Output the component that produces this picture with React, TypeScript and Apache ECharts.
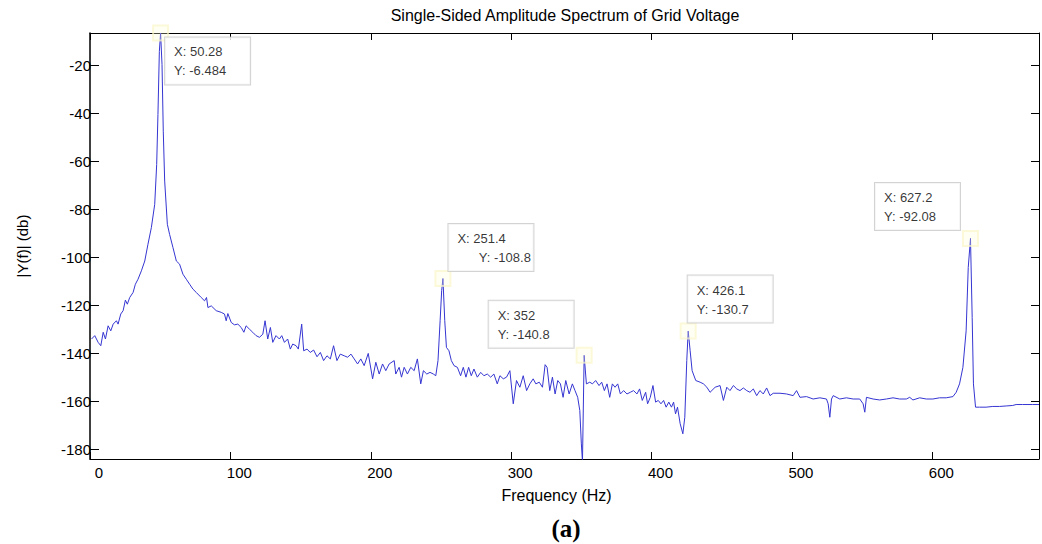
import React, { useEffect, useRef } from "react";
import * as echarts from "echarts";

// Spectrum samples
const freq = [
  1.1, 3.4, 5.8, 7.7, 9.4, 11.0, 12.9, 14.8, 16.5, 18.8, 20.0, 21.9, 23.6, 25.2, 26.6, 28.3, 30.7, 32.3, 34.2, 36.6,
  39.0, 41.3, 43.7, 46.1, 47.5, 48.4, 49.4, 50.28, 51.3, 52.2, 53.2, 55.1, 56.7, 59.1, 61.5, 63.8, 66.2, 68.6, 71.0,
  73.3, 75.7, 79.2, 81.6, 83.0, 84.0, 86.4, 89.9, 93.5, 95.8, 97.0, 98.2, 100.6, 102.9, 105.3, 107.7, 109.6, 111.2,
  113.6, 115.9, 118.3, 120.7, 123.1, 124.7, 126.6, 128.5, 130.2, 132.5, 134.9, 136.6, 138.5, 140.8, 142.7, 144.4,
  146.8, 148.4, 150.8, 152.2, 154.6, 156.9, 159.3, 161.7, 164.1, 166.4, 168.8, 171.2, 173.5, 175.9, 178.3, 181.1,
  183.5, 185.9, 188.2, 190.6, 192.9, 195.3, 198.2, 201.3, 203.6, 206.0, 208.4, 210.7, 213.1,
  216.7, 217.8, 220.2, 221.9, 223.8, 226.1, 228.5, 230.9, 233.2, 235.6, 237.5, 239.9, 242.2, 244.6, 246.3, 247.9,
  249.4, 250.5, 251.4, 252.7, 253.9, 255.7, 257.4, 259.3, 261.7, 264.0, 265.9, 267.8, 269.7, 271.6, 273.5, 275.9,
  278.3, 280.6, 283.0, 285.4, 287.7, 290.1, 292.0, 294.4, 296.7, 299.1, 301.5, 303.8, 306.2, 308.6, 311.0, 313.3,
  315.7, 317.6, 320.0, 322.3, 324.2, 325.6, 327.5, 329.4, 331.3, 333.2, 335.1, 337.0, 338.9, 341.3, 343.6, 345.5,
  347.4, 348.9, 350.0, 350.8, 352.0, 353.6, 356.0, 357.9, 360.2, 362.6, 364.5, 366.4, 368.3, 370.2, 372.1, 374.0,
  375.9, 377.8, 380.1, 382.5, 384.9, 387.2, 389.6, 391.5, 393.4, 395.8, 397.2, 399.1, 401.0, 402.9, 404.8, 406.7,
  408.6, 410.4, 412.3, 414.2, 415.7, 417.1, 418.5, 420.4, 422.3, 423.7, 425.1, 426.1, 427.5, 428.9, 431.5, 434.6,
  437.0, 439.4, 441.7,
  445.3, 448.8, 451.2, 453.6, 455.9, 458.3, 460.7, 463.0, 465.4, 467.8, 470.1, 472.5, 474.9, 477.2, 479.6, 482.0,
  484.4, 486.7, 491.5, 496.2, 500.9, 503.3, 505.7, 510.4, 515.1, 519.9, 524.6, 525.8, 527.0, 528.2, 529.4, 534.1,
  538.8, 543.6, 548.3, 550.7, 551.9, 553.1, 557.8, 562.5, 567.3, 572.0, 576.7, 581.5, 583.9, 586.2, 591.0, 595.7,
  600.4, 605.2, 609.9, 614.7, 617.0, 619.4, 621.8, 624.1, 625.6, 627.2, 628.4, 629.3, 630.8, 633.6, 638.3, 643.1,
  647.8, 652.6, 657.3, 659.7, 664.4, 671.5, 676.0,
];

const amp = [
  -134.0, -132.6, -135.4, -136.8, -131.2, -134.0, -128.5, -130.6, -127.8, -126.4, -127.8, -123.6, -122.2, -117.8,
  -119.5, -116.7, -114.6, -111.2, -109.1, -105.6,
  -101.5, -94.5, -87.6, -77.9, -61.3, -40.5, -14.2, -6.484, -19.7, -47.4, -68.2, -86.2, -90.4, -95.9, -101.5, -102.8,
  -107.0, -109.1, -111.2,
  -113.2, -114.6, -116.7, -118.1, -116.7, -120.9, -120.2, -122.2, -122.9, -123.6, -126.4, -123.4, -127.1, -128.1,
  -127.8, -129.2, -131.2, -128.5,
  -129.9, -131.2, -132.6, -133.3, -132.0, -126.4, -134.0, -129.2, -135.4, -132.6, -134.0, -132.6, -135.4, -134.0,
  -138.2, -136.1,
  -136.8, -138.2, -127.8, -138.9, -138.2, -139.6, -138.6, -141.4, -139.6, -143.0, -141.0, -142.3, -136.8, -143.0,
  -140.3, -141.0,
  -141.6, -140.3, -142.3, -144.4, -142.3, -145.1, -140.0, -150.6, -143.7, -148.6, -144.4, -147.2, -144.4,
  -143.0, -148.6, -145.8, -149.9, -145.8, -148.6, -145.8, -147.2, -142.3, -152.7, -147.2, -148.6, -147.9, -148.6,
  -149.3, -143.0,
  -126.4, -113.9, -108.8, -126.4, -137.5, -138.9, -143.0, -145.1, -145.8, -149.3, -145.8, -149.9, -145.8, -149.3,
  -146.5, -149.9,
  -147.9, -149.3, -148.6, -149.9, -148.6, -152.7, -149.3, -150.6, -149.9, -147.2, -161.0, -151.3, -154.1, -149.3,
  -155.5, -152.7,
  -150.6, -152.7, -152.0, -154.1, -144.7, -145.8, -155.5, -149.9, -156.9, -151.3, -152.7, -158.3, -151.3, -156.9,
  -152.7, -155.5,
  -158.3, -163.8, -177.7, -185.0, -140.8, -152.7, -152.0, -152.7, -151.3, -153.4, -152.0, -155.5, -152.7, -158.3,
  -152.7, -154.1,
  -152.7, -156.9, -155.5, -156.9, -156.2, -155.5, -156.9, -154.8, -159.6, -156.2, -161.0, -158.3, -153.4, -160.3,
  -159.6, -161.0,
  -159.6, -162.4, -160.3, -162.4, -160.3, -165.2, -162.4, -169.3, -173.5, -166.6, -143.0, -130.7, -138.9, -147.2,
  -151.3, -152.0,
  -152.7, -154.1, -156.2,
  -154.1, -153.4, -159.6, -154.1, -155.5, -153.4, -154.8, -155.5, -154.4, -155.5, -156.2, -154.8, -157.6, -155.5,
  -156.9, -154.4,
  -157.6, -156.6, -156.6, -156.9, -157.6, -155.5, -158.3, -158.0, -159.0, -158.5, -159.0, -161.0, -166.6, -159.0,
  -157.6, -159.0,
  -158.5, -159.0, -159.0, -161.0, -164.5, -158.3, -159.0, -159.4, -159.0, -158.5, -159.0, -159.0, -158.3, -159.4,
  -158.5, -159.0,
  -159.0, -158.5, -158.5, -158.0, -156.2, -152.7, -145.8, -130.6, -104.2, -92.08, -125.0, -152.7, -162.4, -162.4,
  -162.4, -162.1,
  -162.1, -161.9, -161.7, -161.3, -161.3, -161.3, -161.3,
];

// Data tips
const tipFreq = [50.28, 251.4, 352, 426.1, 627.2];
const tipAmp = [-6.484, -108.8, -140.8, -130.7, -92.08];

// Tick labels
const xTicks = [0, 100, 200, 300, 400, 500, 600];
const yTicks = [-180, -160, -140, -120, -100, -80, -60, -40, -20];

const titleText = "Single-Sided Amplitude Spectrum of Grid Voltage";
const xName = "Frequency (Hz)";
const yName = "|Y(f)| (db)";
const caption = "(a)";

// layout of data-tip boxes relative to their points (style only)
const tipOffsets: [number, number][] = [
  [13, 13],
  [14, -46],
  [-87, -46],
  [8, -47],
  [-87, -47],
];
const tipIndent = ["", "      ", "", "", ""];

const FONT = "'Liberation Sans', Arial, Helvetica, sans-serif";

export default function App() {
  const ref = useRef<HTMLDivElement>(null);
  useEffect(() => {
    if (!ref.current) return;
    const chart = echarts.init(ref.current, undefined, { renderer: "svg" });
    const lineData = freq.map((f, i) => [f, amp[i]]);
    const tipData = tipFreq.map((f, i) => ({
      value: [f, tipAmp[i]],
      label: {
        position: tipOffsets[i],
        formatter: `X: ${f}\n${tipIndent[i]}Y: ${tipAmp[i]}`,
      },
    }));
    const axisLineStyle = { show: true, onZero: false, lineStyle: { color: "#000", width: 1 } };
    const xFmt = (v: number) => (xTicks.includes(Math.round(v)) && Math.abs(v - Math.round(v)) < 1e-6 ? String(Math.round(v)) : "");
    const yFmt = (v: number) => (yTicks.includes(Math.round(v)) && Math.abs(v - Math.round(v)) < 1e-6 ? String(Math.round(v)) : "");
    chart.setOption({
      animation: false,
      backgroundColor: "#fff",
      textStyle: { fontFamily: FONT },
      grid: { left: 90, right: 2, top: 33, bottom: 85, containLabel: false },
      graphic: [
        {
          type: "text",
          x: 565,
          y: 15,
          style: { text: titleText, fontSize: 16, fontFamily: FONT, fill: "#000", align: "center", verticalAlign: "middle" },
        },
        {
          type: "text",
          x: 566,
          y: 528,
          style: {
            text: caption,
            fontSize: 25,
            fontWeight: "bold",
            fontFamily: "'Liberation Serif', 'Times New Roman', serif",
            fill: "#000",
            align: "center",
            verticalAlign: "middle",
          },
        },
      ],
      xAxis: [
        {
          type: "value",
          min: 0,
          max: 676,
          interval: 100,
          position: "bottom",
          axisLine: axisLineStyle,
          axisTick: { show: true, inside: true, length: 7, lineStyle: { color: "#000" } },
          axisLabel: { fontSize: 15, color: "#000", margin: 6, padding: [0, 0, 0, 18], formatter: xFmt, fontFamily: FONT },
          splitLine: { show: false },
          name: xName,
          nameLocation: "middle",
          nameGap: 28,
          nameTextStyle: { fontSize: 16, color: "#000", padding: [0, 16, 0, 0], fontFamily: FONT },
        },
        {
          type: "value",
          min: 0,
          max: 676,
          interval: 100,
          position: "top",
          axisLine: axisLineStyle,
          axisTick: { show: true, inside: true, length: 7, lineStyle: { color: "#000" } },
          axisLabel: { show: false },
          splitLine: { show: false },
        },
      ],
      yAxis: [
        {
          type: "value",
          min: -184,
          max: -6.5,
          splitNumber: 9,
          position: "left",
          axisLine: { show: true, onZero: false, lineStyle: { color: "#000", width: 1.5 } },
          axisTick: { show: true, inside: true, length: 9, lineStyle: { color: "#000" } },
          axisLabel: { fontSize: 15, color: "#000", margin: -1, formatter: yFmt, fontFamily: FONT },
          splitLine: { show: false },
          name: yName,
          nameLocation: "middle",
          nameGap: 60,
          nameRotate: 90,
          nameTextStyle: { fontSize: 15, color: "#000", fontFamily: FONT },
        },
        {
          type: "value",
          min: -184,
          max: -6.5,
          splitNumber: 9,
          position: "right",
          axisLine: axisLineStyle,
          axisTick: { show: true, inside: true, length: 8, lineStyle: { color: "#000" } },
          axisLabel: { show: false },
          splitLine: { show: false },
        },
      ],
      series: [
        {
          type: "line",
          data: lineData,
          xAxisIndex: 0,
          yAxisIndex: 0,
          showSymbol: false,
          symbol: "none",
          lineStyle: { color: "#3535d2", width: 1 },
          z: 2,
        },
        {
          type: "scatter",
          data: tipData,
          xAxisIndex: 0,
          yAxisIndex: 0,
          symbol: "rect",
          symbolSize: 15,
          itemStyle: { color: "rgba(255,255,215,0.35)", borderColor: "rgba(250,246,200,0.85)", borderWidth: 2 },
          z: 3,
          label: {
            show: true,
            align: "left",
            verticalAlign: "top",
            fontSize: 13,
            lineHeight: 19,
            color: "#000",
            fontFamily: FONT,
            backgroundColor: "#fff",
            borderColor: "#c8c8c8",
            borderWidth: 1,
            padding: [5, 8, 4, 9],
            width: 68,
          },
        },
      ],
    });
    return () => chart.dispose();
  }, []);
  return (
    <div
      ref={ref}
      style={{ position: "fixed", left: 0, top: 0, width: 1042, height: 544, background: "#fff" }}
    />
  );
}
